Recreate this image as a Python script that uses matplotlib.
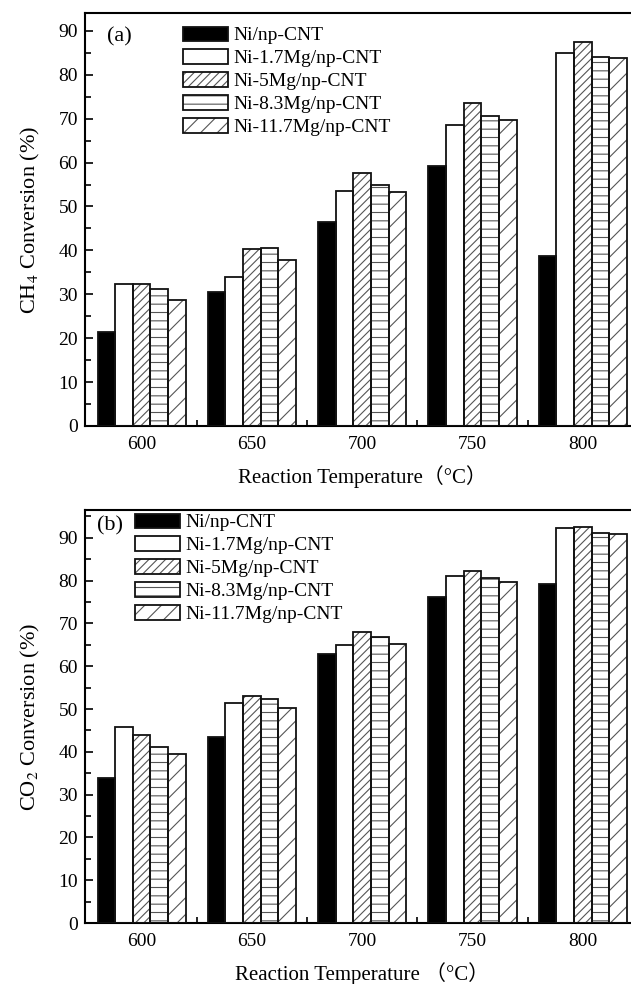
import matplotlib
matplotlib.use("Agg")
import matplotlib.pyplot as plt
import numpy as np
from matplotlib.patches import Patch
from matplotlib.legend_handler import HandlerTuple
from matplotlib.ticker import MultipleLocator, FixedLocator

plt.rcParams['font.family'] = ['Liberation Serif', 'Noto Sans CJK SC']
plt.rcParams['mathtext.fontset'] = 'stix'
plt.rcParams['hatch.linewidth'] = 0.8

temperatures = [600, 650, 700, 750, 800]
series_names = ["Ni/np-CNT", "Ni-1.7Mg/np-CNT", "Ni-5Mg/np-CNT",
                "Ni-8.3Mg/np-CNT", "Ni-11.7Mg/np-CNT"]

ch4_ni = [21.4, 30.5, 46.5, 59.3, 38.7]
ch4_mg17 = [32.4, 33.9, 53.6, 68.6, 84.9]
ch4_mg5 = [32.3, 40.4, 57.6, 73.6, 87.5]
ch4_mg83 = [31.1, 40.6, 54.9, 70.6, 84.1]
ch4_mg117 = [28.8, 37.8, 53.2, 69.8, 83.8]

co2_ni = [33.8, 43.5, 62.9, 76.2, 79.1]
co2_mg17 = [45.7, 51.4, 65.0, 81.0, 92.2]
co2_mg5 = [43.9, 53.1, 68.1, 82.2, 92.6]
co2_mg83 = [41.2, 52.4, 66.9, 80.5, 91.1]
co2_mg117 = [39.6, 50.3, 65.3, 79.6, 90.9]

faces = ['black', 'white', 'white', 'white', 'white']
hatches = [None, None, '////', '--', '//']
hatch_col = '#555555'
bw = 8.0

fig = plt.figure(figsize=(6.31, 9.84), dpi=100)

def panel(rect, data, ylabel, tag, ytop, leg_anchor, tag_pos, xlabel):
    ax = fig.add_axes(rect)
    x = np.array(temperatures, dtype=float)
    handles = []
    for i, vals in enumerate(data):
        xs = x + (i - 2) * bw
        ec = hatch_col if hatches[i] else faces[i]
        ax.bar(xs, vals, width=bw, color=faces[i], edgecolor=ec,
               hatch=hatches[i], linewidth=0, zorder=2)
        ax.bar(xs, vals, width=bw, fill=False, edgecolor='#111111', linewidth=1.3, zorder=3)
        h1 = Patch(facecolor=faces[i], edgecolor=ec, hatch=hatches[i], linewidth=0)
        h2 = Patch(fill=False, edgecolor='#111111', linewidth=1.3)
        handles.append((h1, h2))
    ax.set_xlim(574.3, 825.7)
    ax.set_ylim(0, ytop)
    ax.set_xticks(temperatures)
    ax.xaxis.set_minor_locator(FixedLocator([625, 675, 725, 775]))
    ax.yaxis.set_major_locator(MultipleLocator(10))
    ax.yaxis.set_minor_locator(MultipleLocator(5))
    ax.tick_params(which='both', direction='in', labelsize=14, width=1.2)
    ax.tick_params(which='major', length=6)
    ax.tick_params(which='minor', length=4)
    ax.tick_params(axis='x', which='both', pad=7)
    ax.tick_params(axis='y', which='both', pad=5)
    for s in ax.spines.values():
        s.set_linewidth(1.5)
    ax.set_ylabel(ylabel, fontsize=16, labelpad=12)
    ax.set_xlabel(xlabel, fontsize=15, labelpad=9)
    ax.text(tag_pos[0], tag_pos[1], tag, transform=ax.transAxes, fontsize=16,
            ha='left', va='center')
    ax.legend(handles, series_names, handler_map={tuple: HandlerTuple(ndivide=1, pad=0)},
              loc='upper left', bbox_to_anchor=leg_anchor, frameon=False,
              fontsize=14, handlelength=2.3, handleheight=0.75, handletextpad=0.3,
              labelspacing=0.26, borderpad=0, borderaxespad=0)
    return ax

panel([85/631, (984-426)/984, 554.4/631, 412.7/984],
      [ch4_ni, ch4_mg17, ch4_mg5, ch4_mg83, ch4_mg117],
      r'CH$_4$ Conversion (%)', '(a)', 94.0, (0.177, 0.968), (0.04, 0.943),
      'Reaction Temperature（°C）')
panel([85/631, (984-923)/984, 554.4/631, 413/984],
      [co2_ni, co2_mg17, co2_mg5, co2_mg83, co2_mg117],
      r'CO$_2$ Conversion (%)', '(b)', 96.5, (0.09, 0.9915), (0.022, 0.962),
      'Reaction Temperature （°C）')

fig.savefig('out.png', dpi=100)
